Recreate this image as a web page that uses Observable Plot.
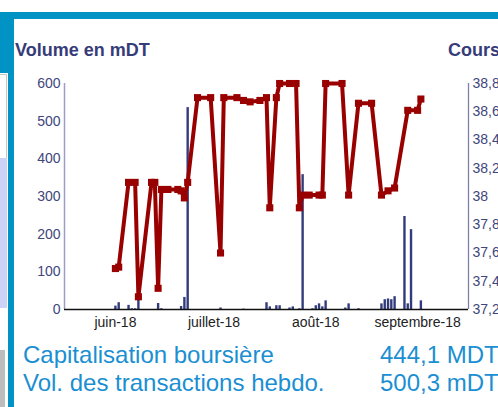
<!DOCTYPE html>
<html><head><meta charset="utf-8">
<script src="https://cdn.jsdelivr.net/npm/d3@7"></script>
<script src="https://cdn.jsdelivr.net/npm/@observablehq/plot@0.6"></script>
<style>
html,body{margin:0;padding:0;background:#fff}
body{width:498px;height:407px;overflow:hidden;position:relative;font-family:"Liberation Sans",Arial,sans-serif}
.abs{position:absolute}
.ttl{font-size:18px;font-weight:bold;color:#363c78;white-space:nowrap;line-height:normal}
.info{font-size:24px;color:#1b8fd2;white-space:nowrap;line-height:normal}
</style></head><body>
<div class="abs" style="left:0;top:12px;width:498px;height:7px;background:#0093c4"></div>
<div class="abs" style="left:0;top:19px;width:14px;height:54px;background:#0093c4"></div>
<div class="abs" style="left:8px;top:73px;width:6px;height:334px;background:#0093c4"></div>
<div class="abs" style="left:0;top:74px;width:6px;height:83px;border-top:1px solid #c8c8c8;border-right:1px solid #c8c8c8;background:#fff"></div>
<div class="abs" style="left:0;top:158px;width:7px;height:150px;background:#ccd3f6"></div>
<div class="abs" style="left:0;top:350px;width:5px;height:57px;background:#bdbdbd"></div>
<div id="chart" class="abs" style="left:0;top:0"></div>
<div class="abs ttl" style="left:15px;top:40px">Volume en mDT</div>
<div class="abs ttl" style="left:448px;top:40px">Cours</div>
<div class="abs info" style="left:23px;top:341px">Capitalisation boursière</div>
<div class="abs info" style="left:380px;top:341px">444,1 MDT</div>
<div class="abs info" style="left:23px;top:369px">Vol. des transactions hebdo.</div>
<div class="abs info" style="left:380px;top:369px">500,3 mDT</div>
<script>
// ---- data ----
const barDates = ["2018-06-01","2018-06-02","2018-06-05","2018-06-06","2018-06-07","2018-06-08","2018-06-14","2018-06-15","2018-06-21","2018-06-22","2018-06-23","2018-07-03","2018-07-10","2018-07-17","2018-07-18","2018-07-20","2018-07-21","2018-07-24","2018-07-25","2018-07-27","2018-07-28","2018-07-31","2018-08-01","2018-08-02","2018-08-03","2018-08-04","2018-08-10","2018-08-11","2018-08-14","2018-08-21","2018-08-22","2018-08-23","2018-08-24","2018-08-25","2018-08-28","2018-08-29","2018-08-30","2018-09-02"];
const barVolumes = [9,18,11,2,2,27,16,2,8,32,536,4,1,18,7,10,10,4,7,2,358,2,10,15,7,23,4,15,2,15,26,28,26,34,247,15,212,23];

const priceDates = ["2018-06-01","2018-06-02","2018-06-05","2018-06-07","2018-06-08","2018-06-12","2018-06-13","2018-06-14","2018-06-15","2018-06-17","2018-06-20","2018-06-21","2018-06-22","2018-06-23","2018-06-26","2018-06-30","2018-07-03","2018-07-04","2018-07-08","2018-07-10","2018-07-12","2018-07-15","2018-07-17","2018-07-18","2018-07-20","2018-07-21","2018-07-24","2018-07-26","2018-07-27","2018-07-28","2018-07-30","2018-08-02","2018-08-03","2018-08-04","2018-08-09","2018-08-11","2018-08-14","2018-08-18","2018-08-21","2018-08-23","2018-08-25","2018-08-29","2018-09-01","2018-09-02"];
const priceValues = [37.49,37.50,38.10,38.10,37.29,38.10,38.10,37.35,38.05,38.05,38.05,38.04,37.99,38.10,38.70,38.70,37.60,38.70,38.70,38.68,38.67,38.68,38.70,37.92,38.70,38.80,38.80,38.80,37.92,38.01,38.01,38.01,38.01,38.80,38.80,38.01,38.66,38.66,38.01,38.04,38.06,38.61,38.61,38.69];

const volTicks = [0,100,200,300,400,500,600];
const priceTicks = [37.2,37.4,37.6,37.8,38.0,38.2,38.4,38.6,38.8];
const monthTicks = ["2018-06-01","2018-07-01","2018-08-01","2018-09-01"];
const monthLabels = ["juin-18","juillet-18","août-18","septembre-18"];

// ---- build ----
const bars = barDates.map((d,i)=>({date:new Date(d), vol:barVolumes[i]}));
const prices = priceDates.map((d,i)=>({date:new Date(d), price:priceValues[i]}));
const pMin = priceTicks[0], pMax = priceTicks[priceTicks.length-1];
const vMax = volTicks[volTicks.length-1];
const toVol = p => (p - pMin) / (pMax - pMin) * vMax;
const mTicks = monthTicks.map(d=>new Date(d));
const mLabel = d => monthLabels[mTicks.findIndex(t=>+t===+d)];
const pLabel = v => String(Math.round((v / vMax * (pMax - pMin) + pMin) * 10) / 10).replace(".", ",");

const x0 = new Date(Date.UTC(2018,4,16,12)), x1 = new Date(Date.UTC(2018,8,16,12));

const chart = Plot.plot({
  width: 498, height: 340,
  marginLeft: 64, marginRight: 30, marginTop: 83, marginBottom: 31,
  style: {fontFamily: "'Liberation Sans', Arial, sans-serif", fontSize: "14px", background: "transparent"},
  x: {type: "utc", domain: [x0, x1]},
  y: {domain: [0, vMax]},
  marks: [
    Plot.ruleX(bars, {x: "date", y1: 0, y2: "vol", stroke: "#323c7c", strokeWidth: 2.4}),
    Plot.ruleX([x0], {stroke: "#9c9cc6", strokeWidth: 1.5}),
    Plot.ruleX([x1], {stroke: "#7e80ac", strokeWidth: 1.3}),
    Plot.ruleY([0], {stroke: "#111", strokeWidth: 1.5}),
    Plot.line(prices, {x: "date", y: d => toVol(d.price), stroke: "#990000", strokeWidth: 4, strokeLinejoin: "miter"}),
    Plot.dot(prices, {x: "date", y: d => toVol(d.price), symbol: "square", r: 4, fill: "#990000", stroke: null}),
    Plot.axisY({ticks: volTicks, tickSize: 0, tickPadding: 4, color: "#3e467c", fontSize: 14, label: null}),
    Plot.axisY({anchor: "right", ticks: priceTicks.map(toVol), tickFormat: pLabel, tickSize: 0, tickPadding: 4, color: "#3e467c", fontSize: 14, label: null}),
    Plot.axisX({ticks: mTicks, tickFormat: mLabel, tickSize: 0, tickPadding: 8, color: "#222", fontSize: 14, label: null})
  ]
});
chart.style.overflow = "visible";
document.getElementById("chart").appendChild(chart);
</script>
</body></html>
